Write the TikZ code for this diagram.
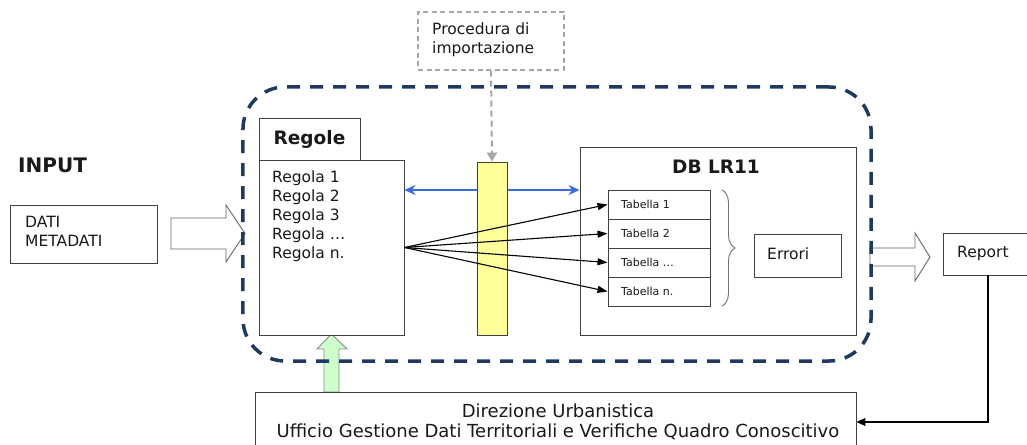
\documentclass[tikz,border=0pt]{standalone}
\usepackage{fontspec}
\setmainfont{DejaVu Sans}
\usetikzlibrary{arrows.meta,decorations.pathreplacing}
\definecolor{navy}{HTML}{1F3A60}
\definecolor{arrblue}{HTML}{3A6BDC}
\definecolor{barfill}{HTML}{FFFF99}
\definecolor{greenfill}{HTML}{CCFFCC}
\definecolor{boxline}{HTML}{404040}
\begin{document}
\begin{tikzpicture}[x=1bp,y=-1bp,
  box/.style={draw=boxline, line width=0.9bp, fill=white, inner sep=0pt},
  txt/.style={font=\fontsize{15.5bp}{19bp}\selectfont, inner sep=0pt, text=black!90, align=left},
  bigtxt/.style={font=\fontsize{18bp}{20bp}\selectfont, inner sep=0pt, text=black!90, anchor=base},
  small/.style={font=\fontsize{11bp}{13bp}\selectfont, inner sep=0pt, text=black!90},
  bold/.style={font=\fontsize{18.5bp}{22bp}\selectfont\bfseries, inner sep=0pt, text=black!90},
  blockarrow/.style={draw=black!60, line width=0.9bp, fill=white, line join=miter},
  tip/.style={-{Triangle[length=10bp,width=7bp]}, line width=1.1bp, black}
]
\clip (0,0) rectangle (1027,445);
\fill[white] (0,0) rectangle (1027,445);

% block arrows (behind frame)
\draw[blockarrow] (171,218) -- (226,218) -- (226,205) -- (245,233.5) -- (226,262) -- (226,249) -- (171,249) -- cycle;
\draw[blockarrow] (870,248) -- (915,248) -- (915,233) -- (930,257) -- (915,281) -- (915,266) -- (870,266) -- cycle;
\draw[draw=black!45, line width=0.9bp, fill=greenfill] (324,392) -- (324,349) -- (317,349) -- (331.5,334) -- (347,349) -- (339,349) -- (339,392) -- cycle;

% dashed frame
\node[draw=navy, line width=3.5bp, dash pattern=on 13bp off 10bp, rounded corners=42bp,
      minimum width=628bp, minimum height=274bp, inner sep=0pt] (frame) at (557,224) {};

% procedure box
\node[draw=black!35, line width=1.3bp, dash pattern=on 5bp off 3.5bp, fill=white,
      minimum width=146bp, minimum height=58bp, inner sep=0pt] (proc) at (491,41) {};
\node[txt, anchor=west] (proct) at (432,39.5) {Procedura di\\importazione};

% INPUT side
\node[font=\fontsize{20bp}{24bp}\selectfont\bfseries, inner sep=0pt, text=black!90, anchor=west] (input) at (18,165) {INPUT};
\node[box, minimum width=147bp, minimum height=58bp] (dati) at (83.5,234) {};
\node[txt, anchor=west] (datit) at (25,231.5) {DATI\\METADATI};

% Regole
\node[box, minimum width=101bp, minimum height=42bp] (regh) at (309.5,139) {};
\node[bold] (reght) at (309.5,139) {Regole};
\node[box, minimum width=145bp, minimum height=175bp] (regb) at (331.5,247.5) {};
\node[txt, anchor=west] (regt) at (272,216) {Regola 1\\Regola 2\\Regola 3\\Regola …\\Regola n.};

% DB
\node[box, minimum width=276bp, minimum height=188bp] (db) at (718,241) {};
\node[bold] (dbt) at (716,167) {DB LR11};
\node[box, minimum width=102bp, minimum height=29bp] (t1) at (659,204.5) {};
\node[box, minimum width=102bp, minimum height=29bp] (t2) at (659,233.5) {};
\node[box, minimum width=102bp, minimum height=29bp] (t3) at (659,262.5) {};
\node[box, minimum width=102bp, minimum height=29bp] (t4) at (659,291.5) {};
\node[small, anchor=west] at (621,204.5) {Tabella 1};
\node[small, anchor=west] at (621,233.5) {Tabella 2};
\node[small, anchor=west] at (621,262.5) {Tabella …};
\node[small, anchor=west] at (621,291.5) {Tabella n.};
\coordinate (brtop) at (722,190);
\coordinate (brbot) at (722,306);
\draw[black!55, line width=0.9bp, decorate, decoration={brace, amplitude=13bp}] (brtop) -- (brbot);
\node[box, minimum width=87bp, minimum height=43bp] (err) at (797.5,255.5) {};
\node[txt, anchor=west] (errt) at (767,254) {Errori};

% Report
\node[box, minimum width=90bp, minimum height=42bp] (rep) at (988,254) {};
\node[txt, anchor=west] (rept) at (957,253) {Report};

% bottom box
\node[box, minimum width=601bp, minimum height=60bp] (bot) at (555.5,422) {};
\node[bigtxt] (bott1) at (558,417) {Direzione Urbanistica};
\node[bigtxt] (bott2) at (558,437) {Ufficio Gestione Dati Territoriali e Verifiche Quadro Conoscitivo};

% connectors
\coordinate (by) at (0,190);
\draw[arrblue, line width=2bp, {Stealth[length=11bp,width=10bp]}-{Stealth[length=11bp,width=10bp]}] (regb.east |- by) -- (db.west |- by);
\node[draw=boxline, line width=0.9bp, fill=barfill, minimum width=30bp, minimum height=173bp, inner sep=0pt] (bar) at (492,248.5) {};
\draw[black!35, line width=2bp, dash pattern=on 6bp off 4bp, -{Triangle[length=9bp,width=10bp]}] (proc.south) -- (bar.north);
\foreach \t in {t1,t2,t3,t4} \draw[tip] (regb.east) -- (\t.west);
\draw[line width=1.1bp, -{Triangle[length=9bp,width=8bp]}] (rep.south) |- (bot.east);
\end{tikzpicture}
\end{document}
